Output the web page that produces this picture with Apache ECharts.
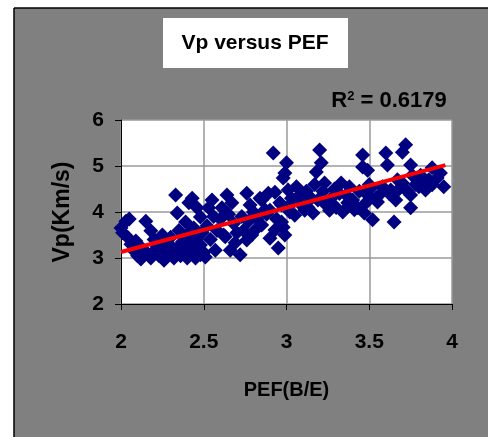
<!DOCTYPE html>
<html>
<head>
<meta charset="utf-8">
<script src="https://cdn.jsdelivr.net/npm/echarts@6/dist/echarts.min.js"></script>
<style>
  html, body { margin: 0; padding: 0; background: #fff; }
  #chart { width: 488px; height: 437px; }
</style>
</head>
<body>
<div id="chart"></div>
<script>
// PEF(B/E) values
const pef = [
  2.00, 2.01, 2.03, 2.05, 2.04, 2.06, 2.09, 2.08, 2.10, 2.12, 2.13, 2.15, 2.16, 2.18, 2.18,
  2.20, 2.20, 2.22, 2.23, 2.24, 2.25, 2.26, 2.27, 2.28, 2.29,
  2.30, 2.31, 2.32, 2.33, 2.34, 2.34, 2.35, 2.36, 2.37, 2.38, 2.39, 2.40, 2.40, 2.41, 2.42,
  2.43, 2.43, 2.44, 2.45, 2.45, 2.46, 2.47, 2.48, 2.48, 2.48, 2.49, 2.50,
  2.51, 2.52, 2.53, 2.54, 2.55, 2.56, 2.57, 2.58, 2.60, 2.61, 2.62, 2.63, 2.64, 2.65, 2.66,
  2.67, 2.68, 2.69, 2.70, 2.72, 2.73, 2.74, 2.76, 2.76, 2.77,
  2.78, 2.79, 2.80, 2.81, 2.82, 2.84, 2.85, 2.85, 2.87, 2.88, 2.89, 2.90, 2.90, 2.92, 2.93,
  2.93, 2.94, 2.95, 2.96, 2.97, 2.97, 2.98, 2.98, 2.99, 2.99,
  3.00, 3.01, 3.02, 3.03, 3.04, 3.05, 3.06, 3.08, 3.09, 3.10, 3.11, 3.12, 3.13, 3.15, 3.16,
  3.17, 3.18, 3.19, 3.20, 3.21, 3.22, 3.23, 3.24, 3.26, 3.27,
  3.29, 3.30, 3.32, 3.33, 3.34, 3.36, 3.37, 3.38, 3.40, 3.41, 3.43, 3.44, 3.46, 3.46, 3.47,
  3.48, 3.49, 3.49,
  3.50, 3.51, 3.52, 3.54, 3.55, 3.56, 3.58, 3.60, 3.61, 3.62, 3.63, 3.65, 3.66, 3.67, 3.68,
  3.70, 3.70, 3.72, 3.73, 3.75, 3.75, 3.75, 3.76, 3.78, 3.80, 3.81, 3.83, 3.84, 3.86, 3.88,
  3.88, 3.91, 3.93, 3.95
];
// Vp (Km/s) values, same order
const vp = [
  3.65, 3.55, 3.80, 3.85, 3.45, 3.30, 3.37, 3.15, 3.05, 2.98, 3.20, 3.80, 3.10, 3.59, 3.00,
  3.40, 3.15, 3.25, 3.05, 3.33, 3.50, 2.95, 3.15, 3.05, 3.30,
  3.45, 3.10, 3.00, 4.37, 3.98, 3.20, 3.60, 3.05, 3.35, 3.15, 3.78, 3.50, 3.00, 4.20, 3.25,
  4.30, 3.10, 3.65, 3.40, 3.00, 4.09, 3.20, 3.89, 3.28, 3.07, 3.55, 3.12,
  3.02, 3.70, 4.09, 3.40, 4.26, 3.90, 3.17, 3.60, 3.85, 4.09, 3.50, 3.46, 4.37, 3.95, 3.17,
  4.20, 3.75, 3.33, 3.55, 3.07, 3.90, 3.60, 4.41, 3.39, 3.80,
  4.15, 3.50, 4.00, 3.61, 3.85, 4.30, 3.72, 4.26, 4.05, 3.95, 4.41, 3.43, 4.04, 5.28, 4.43,
  3.61, 3.85, 3.22, 4.20, 4.15, 3.78, 3.67, 4.74, 3.50, 4.85,
  5.07, 4.48, 4.00, 4.30, 4.22, 3.93, 4.55, 4.37, 4.15, 4.25, 4.04, 4.45, 4.10, 4.30, 3.98,
  4.60, 4.87, 4.26, 5.35, 5.07, 4.45, 4.63, 4.15, 4.04, 4.30,
  4.50, 4.10, 4.40, 4.63, 4.00, 4.37, 4.20, 4.55, 4.26, 4.05, 4.09, 4.45, 5.24, 4.98, 3.98,
  4.20, 4.37, 4.91,
  4.60, 4.52, 3.83, 4.30, 4.22, 4.37, 4.55, 5.28, 5.02, 4.40, 4.48, 3.78, 4.26, 4.70, 4.50,
  5.30, 4.63, 5.46, 4.45, 5.02, 4.37, 4.09, 4.80, 4.60, 4.55, 4.80, 4.65, 4.48, 4.70, 4.96,
  4.59, 4.74, 4.85, 4.55
];
// linear trend line end points
const trendX = [2.0, 3.96];
const trendY = [3.13, 5.02];

const xTicks = [2, 2.5, 3, 3.5, 4];
const yTicks = [2, 3, 4, 5, 6];

const points = pef.map((x, i) => [x, vp[i]]);
const trend = trendX.map((x, i) => [x, trendY[i]]);

const font = 'Liberation Sans, Arial, sans-serif';

const chart = echarts.init(document.getElementById('chart'));
chart.setOption({
  backgroundColor: '#fff',
  animation: false,
  graphic: [
    { type: 'rect', z: -10, shape: { x: 14, y: 8, width: 480, height: 440 }, style: { fill: '#808080' } },
    { type: 'line', z: -9, shape: { x1: 14, y1: 8, x2: 488, y2: 8 }, style: { stroke: '#000', lineWidth: 1.5 } },
    { type: 'line', z: -9, shape: { x1: 14, y1: 8, x2: 14, y2: 437 }, style: { stroke: '#000', lineWidth: 1.5 } },
    { type: 'rect', z: -8, shape: { x: 163, y: 18, width: 185, height: 50 }, style: { fill: '#fff' } },
    {
      type: 'text', x: 255, y: 43,
      style: { text: 'Vp versus PEF', font: 'bold 21px ' + font, fill: '#000', textAlign: 'center', textVerticalAlign: 'middle' }
    },
    {
      type: 'text', x: 389, y: 101,
      style: {
        text: '{b|R}{s|2}{b| = 0.6179}',
        textAlign: 'center', textVerticalAlign: 'middle',
        rich: {
          b: { fontSize: 22, fontWeight: 'bold', fontFamily: font, color: '#000' },
          s: { fontSize: 13, fontWeight: 'bold', fontFamily: font, color: '#000', padding: [0, 0, 10, 0] }
        }
      }
    }
  ],
  grid: {
    left: 121, right: 36, top: 120, bottom: 133,
    show: true, backgroundColor: '#fff', borderWidth: 0
  },
  xAxis: {
    type: 'value', min: xTicks[0], max: xTicks[xTicks.length - 1], interval: 0.5,
    name: 'PEF(B/E)', nameLocation: 'middle', nameGap: 76,
    nameTextStyle: { fontSize: 20, fontWeight: 'bold', fontFamily: font, color: '#000' },
    axisLine: { lineStyle: { color: '#000', width: 1 } },
    axisTick: { show: true, length: 6, lineStyle: { color: '#000' } },
    axisLabel: { margin: 28, fontSize: 21, fontWeight: 'bold', fontFamily: font, color: '#000' },
    splitLine: { show: true, lineStyle: { color: '#9a9a9a', width: 1.5 } }
  },
  yAxis: {
    type: 'value', min: yTicks[0], max: yTicks[yTicks.length - 1], interval: 1,
    name: 'Vp(Km/s)', nameLocation: 'middle', nameGap: 47,
    nameTextStyle: { fontSize: 23, fontWeight: 'bold', fontFamily: font, color: '#000' },
    axisLine: { show: true, lineStyle: { color: '#000', width: 1 } },
    axisTick: { show: true, length: 6, lineStyle: { color: '#000' } },
    axisLabel: { margin: 17, fontSize: 21, fontWeight: 'bold', fontFamily: font, color: '#000' },
    splitLine: { show: true, lineStyle: { color: '#9a9a9a', width: 1.5 } }
  },
  series: [
    {
      type: 'scatter',
      data: points,
      symbol: 'diamond',
      symbolSize: 15,
      itemStyle: { color: '#000080', opacity: 1 }
    },
    {
      type: 'line',
      data: trend,
      symbol: 'none',
      z: 5,
      lineStyle: { color: '#ff0000', width: 4 }
    }
  ]
});
</script>
</body>
</html>
